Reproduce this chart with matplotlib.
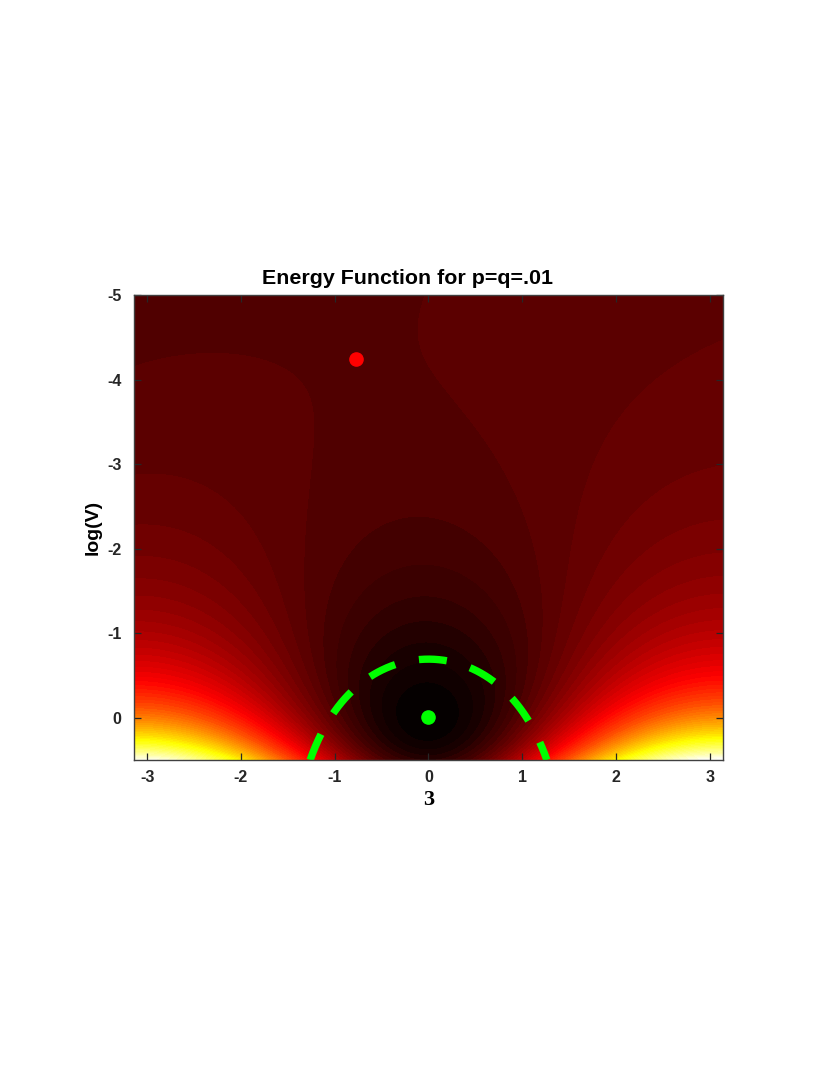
import numpy as np
import matplotlib
matplotlib.use("Agg")
import matplotlib.pyplot as plt
from matplotlib.colors import ListedColormap

# parametres du probleme
p = 0.01
q = 0.01
n_levels = 64
boundary = 0.5          # courbe V*cos(theta) = 0.5 (tirets verts)

theta_lim = [-np.pi, np.pi]
logv_lim = [-5, 0.5]
xticks = [-3, -2, -1, 0, 1, 2, 3]
yticks = [-5, -4, -3, -2, -1, 0]
title = "Energy Function for p=q=.01"


def energy(th, V):
    # W(theta, V) = V^2/2 - V cos(theta) + p*theta + q*log(V)
    return 0.5 * V ** 2 - V * np.cos(th) + p * th + q * np.log(V)


def equilibria():
    # V sin(th) = -p ,  V cos(th) = V^2 + q
    a = 1 - 2 * q
    d = np.sqrt(a ** 2 - 4 * (p ** 2 + q ** 2))
    pts = []
    for u in [(a + d) / 2, (a - d) / 2]:
        V = np.sqrt(u)
        pts.append((np.arctan2(-p, u + q), np.log(V)))
    return pts


def matlab_hot(n=256):
    x = np.linspace(0, 1, n)
    r = np.clip(x * 8 / 3, 0, 1)
    g = np.clip(x * 8 / 3 - 1, 0, 1)
    b = np.clip(x * 4 - 3, 0, 1)
    return ListedColormap(np.column_stack([r, g, b]))


th = np.linspace(theta_lim[0], theta_lim[1], 600)
lv = np.linspace(logv_lim[0], logv_lim[1], 500)
TH, LV = np.meshgrid(th, lv)
W = energy(TH, np.exp(LV))

zmin, zmax = W.min(), W.max()
levels = np.linspace(zmin, zmax, n_levels + 1)

plt.rcParams['font.family'] = ['Liberation Sans', 'DejaVu Sans']
fig = plt.figure(figsize=(8.3, 10.75), dpi=100)
ax = fig.add_axes([0.1614, 0.2930, 0.7097, 0.4326])

ax.contourf(TH, LV, W, levels=levels, cmap=matlab_hot(), vmin=zmin, vmax=zmax)

# courbe V cos(theta) = 0.5, depuis le bord bas
t0 = np.arccos(boundary / np.exp(logv_lim[1]))
tc = np.linspace(-t0, t0, 400)
line, = ax.plot(tc, np.log(boundary / np.cos(tc)), color=(0, 1, 0), lw=5.3)
line.set_dashes([3.8, 3.3])

(ts, ls), (tu, lu) = equilibria()
ax.plot(ts, ls, 'o', color=(0, 1, 0), ms=9.5)
ax.plot(tu, lu, 'o', color=(1, 0, 0), ms=9.5)

ax.set_xlim(theta_lim)
ax.set_ylim(logv_lim[1], logv_lim[0])
ax.set_xticks(xticks)
ax.set_yticks(yticks)
ax.set_xticklabels([str(t) for t in xticks], fontweight='bold', fontsize=11.5, color='#262626')
ax.set_yticklabels([str(t) for t in yticks], fontweight='bold', fontsize=11.5, color='#262626')
ax.tick_params(direction='in', length=5, width=0.9, top=True, right=True, color='#262626')
ax.tick_params(axis='y', pad=9)
ax.tick_params(axis='x', pad=7)
for s in ax.spines.values():
    s.set_color('#404040')
    s.set_linewidth(1.0)

ax.set_title(title, fontweight='bold', fontsize=15.4, pad=8, x=0.464)
ax.set_ylabel("log(V)", fontweight='bold', fontsize=14, labelpad=4)
ax.set_xlabel("3", fontfamily='Liberation Serif', fontweight='bold', fontsize=16, labelpad=4)

fig.savefig("out.png", dpi=100)
